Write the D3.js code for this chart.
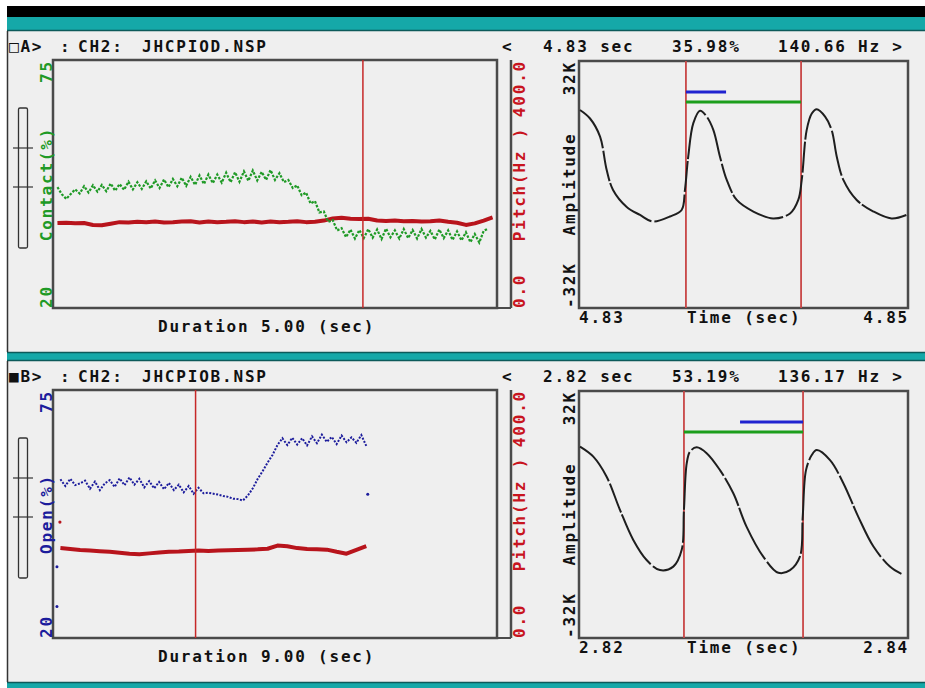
<!DOCTYPE html>
<html>
<head>
<meta charset="utf-8">
<script src="https://cdn.jsdelivr.net/npm/d3@7"></script>
<style>
  body { margin: 0; background: #fff; }
  text { font-family: "DejaVu Sans Mono", monospace; font-weight: bold; font-size: 16px; letter-spacing: 1.8px; }
</style>
</head>
<body>
<svg id="chart" width="925" height="688"></svg>
<script>
// ---- data read off the screen capture ----
// panel A : contact quotient (%) sampled every 0.05 s from 0.05 s
const contactA = [
  46.8, 45.2, 44.2, 45.3, 46.3, 45.4, 47.0, 45.6, 47.2, 45.8,
  47.3, 45.9, 47.6, 46.0, 47.5, 46.2, 48.0, 46.3, 47.9, 46.4,
  48.1, 46.5, 48.3, 46.6, 48.5, 46.8, 48.6, 47.0, 48.9, 47.1,
  49.1, 47.3, 49.4, 47.5, 49.6, 47.7, 49.6, 47.8, 50.0, 47.9,
  50.1, 48.0, 50.3, 48.2, 50.5, 48.3, 50.2, 48.4, 50.6, 48.4,
  49.9, 47.9, 48.4, 46.6, 47.2, 45.0, 45.6, 43.2, 43.7, 41.2,
  41.4, 39.1, 39.5, 37.2, 37.7, 35.7, 37.4, 35.4, 37.3, 35.5,
  37.5, 35.6, 37.4, 35.3, 37.6, 35.7, 37.2, 35.4, 37.5, 35.5,
  37.3, 35.4, 37.5, 35.6, 37.1, 35.2, 37.4, 35.5, 37.2, 35.1,
  37.0, 35.0, 36.8, 34.6, 36.4, 34.5, 37.1, 37.6
];
// panel A : pitch (Hz) every 0.1 s from 0.05 s
const pitchA = [
  137, 137.5, 136.5, 137, 134, 133.5, 136, 138.5, 138, 139,
  138.5, 139.5, 138, 138.5, 139.5, 140, 138, 139.5, 138.5, 139,
  140, 138.5, 139.5, 138, 139.5, 138.5, 139, 140, 138.5, 139,
  141, 144.5, 145.5, 144, 143.5, 144, 141, 140.5, 141, 140,
  140.5, 139.5, 140, 141, 139, 137.5, 134, 136.5, 141, 146
];
// panel B : open quotient (%) every 0.1 s from 0.15 s
const openB = [
  55.2, 53.7, 55.3, 53.9, 54.3, 54.9, 53.1, 54.7, 52.8, 54.3,
  55.0, 53.5, 55.4, 53.9, 55.6, 54.0, 55.3, 53.4, 54.8, 53.2,
  54.6, 53.0, 54.4, 52.8, 54.0, 52.3, 53.7, 52.0, 53.3, 52.1,
  52.2, 52.0, 51.8, 51.5, 51.3, 50.9, 50.8, 50.5, 51.6, 53.2,
  55.3, 57.0, 58.9, 60.6, 62.8, 64.3, 62.8, 64.4, 62.9, 64.3,
  62.7, 64.7, 63.2, 65.1, 63.5, 64.6, 63.0, 64.9, 63.4, 64.5,
  63.3, 65.0, 62.6
];
const strayOpenB = [[0.08, 35.8], [0.08, 27.0], [6.38, 51.9]];
// panel B : pitch (Hz) every 0.2 s from 0.15 s
const pitchB = [
  145, 143.5, 142, 141, 140, 139, 137.5, 136, 135, 136.5,
  138, 139, 139.5, 140.5, 141, 140.5, 141, 141.5, 142, 142.5,
  143, 144, 149, 148, 145, 143.5, 143, 142.5, 139, 136,
  142, 148
];
const strayPitchB = [[0.14, 187]];

// waveforms: [ms from window start, amplitude in K]
const waveA = [
  [0.06, 19.3], [0.67, 17.1], [1.28, 12.4], [1.68, 3.8], [2.07, -1.4], [2.9, -5.8],
  [3.71, -7.9], [4.5, -9.6], [5.53, -8.3], [6.24, -6.6], [6.44, -1.4], [6.64, 7.2],
  [6.95, 15.9], [7.36, 19.1], [7.76, 17.6], [8.17, 14.1], [8.57, 7.2], [8.98, 1.2],
  [9.59, -4.0], [10.6, -7.0], [11.8, -8.8], [12.83, -7.5], [13.33, -4.0], [13.54, 1.2],
  [13.84, 14.1], [14.15, 18.4], [14.45, 19.5], [14.96, 17.6], [15.36, 14.1], [15.67, 7.2],
  [16.07, 1.2], [16.88, -4.0], [17.9, -7.0], [19.0, -8.8], [19.9, -7.9]
];
const waveB = [
  [0.06, 17.6], [0.87, 15.0], [1.68, 9.8], [2.49, 1.2], [3.3, -6.6], [4.11, -11.8],
  [4.92, -14.4], [5.73, -13.5], [6.24, -9.2], [6.38, 1.2], [6.55, 13.3], [6.75, 16.3],
  [7.15, 17.4], [7.76, 15.9], [8.57, 11.5], [9.38, 5.5], [10.19, -3.2], [11.2, -10.9],
  [12.12, -15.1], [12.83, -14.4], [13.43, -10.9], [13.6, -0.6], [13.8, 11.5], [14.15, 15.4],
  [14.45, 16.7], [15.26, 14.1], [16.07, 8.1], [16.98, -0.6], [17.9, -8.3], [18.9, -13.5],
  [19.6, -15.4]
];

const periodA = [6.5, 13.5], openBarA = [6.5, 8.94];
const periodB = [6.38, 13.62], openBarB = [9.79, 13.62];

const svg = d3.select("#chart");

// title bar strips
svg.append("rect").attr("x", 7).attr("y", 6).attr("width", 918).attr("height", 11).attr("fill", "#000");
svg.append("rect").attr("x", 7).attr("y", 17).attr("width", 918).attr("height", 13).attr("fill", "#15a8a8");
svg.append("rect").attr("x", 7).attr("y", 353).attr("width", 918).attr("height", 8).attr("fill", "#15a8a8");
svg.append("rect").attr("x", 7).attr("y", 682).attr("width", 918).attr("height", 6).attr("fill", "#15a8a8");

function series(values, start, step) {
  return values.map((v, i) => [start + i * step, v]);
}

function drawPanel(cfg) {
  const oy = cfg.top;
  const top = oy + 29, bottom = oy + 277;
  const g = svg.append("g");

  g.append("rect").attr("x", 7).attr("y", oy).attr("width", 918).attr("height", 321).attr("fill", "#efefef");
  g.append("line").attr("x1", 7).attr("x2", 925).attr("y1", oy - 0.5).attr("y2", oy - 0.5).attr("stroke", "#0d5a5a").attr("stroke-width", 1.5);
  g.append("line").attr("x1", 7).attr("x2", 925).attr("y1", oy + 321.5).attr("y2", oy + 321.5).attr("stroke", "#0d5a5a").attr("stroke-width", 1.5);
  g.append("line").attr("x1", 7.5).attr("x2", 7.5).attr("y1", oy).attr("y2", oy + 321).attr("stroke", "#333").attr("stroke-width", 1.5);

  // header line
  cfg.header.concat(cfg.info).forEach(([x, s]) => {
    g.append("text").attr("x", x).attr("y", oy + 21).attr("fill", "#111").text(s);
  });

  // scroll indicator on the far left
  g.append("rect").attr("x", 18.5).attr("y", oy + 77).attr("width", 9).attr("height", 140)
    .attr("rx", 1.5).attr("fill", "none").attr("stroke", "#333").attr("stroke-width", 1.3);
  [oy + 117, oy + 156].forEach(y => {
    g.append("line").attr("x1", 13).attr("x2", 33).attr("y1", y).attr("y2", y).attr("stroke", "#333").attr("stroke-width", 1.2);
  });

  // ---- left: trend plot ----
  const xL = d3.scaleLinear().domain([0, cfg.duration]).range([53, 497]);
  const yL = d3.scaleLinear().domain([20, 75]).range([bottom, top]);
  const yP = d3.scaleLinear().domain([0, 400]).range([bottom, top]);

  const frame = "#4a4a4a";
  g.append("rect").attr("x", 53).attr("y", top).attr("width", 444).attr("height", bottom - top)
    .attr("fill", "none").attr("stroke", frame).attr("stroke-width", 2.5);
  g.append("line").attr("x1", 511).attr("x2", 511).attr("y1", top).attr("y2", bottom).attr("stroke", frame).attr("stroke-width", 2.5);
  g.append("line").attr("x1", 497).attr("x2", 511).attr("y1", bottom).attr("y2", bottom).attr("stroke", frame).attr("stroke-width", 2);

  const lineL = d3.line().x(d => xL(d[0])).y(d => yL(d[1]));
  const lineP = d3.line().x(d => xL(d[0])).y(d => yP(d[1]));

  g.append("path").datum(cfg.pitch).attr("d", lineP).attr("fill", "none")
    .attr("stroke", "#b8141c").attr("stroke-width", 4).attr("stroke-linejoin", "round");
  g.append("path").datum(cfg.quotient).attr("d", lineL).attr("fill", "none")
    .attr("stroke", cfg.color).attr("stroke-width", cfg.dotWidth).attr("stroke-dasharray", cfg.dash);

  (cfg.strayQ || []).forEach(d => {
    g.append("circle").attr("cx", xL(d[0])).attr("cy", yL(d[1])).attr("r", 1.5).attr("fill", cfg.color);
  });
  (cfg.strayP || []).forEach(d => {
    g.append("circle").attr("cx", xL(d[0])).attr("cy", yP(d[1])).attr("r", 1.6).attr("fill", "#b8141c");
  });

  g.append("line").attr("x1", xL(cfg.cursor)).attr("x2", xL(cfg.cursor)).attr("y1", top).attr("y2", bottom)
    .attr("stroke", "#c62828").attr("stroke-width", 1.5);

  // rotated axis texts
  const rot = (x, y, s, anchor, fill) => g.append("text")
    .attr("transform", `translate(${x},${y}) rotate(-90)`)
    .attr("text-anchor", anchor).attr("fill", fill).text(s);
  rot(52, yL(75), "75", "end", cfg.color);
  rot(52, yL(20), "20", "start", cfg.color);
  rot(52, (top + bottom) / 2, cfg.label, "middle", cfg.color);
  rot(525, yP(400), "400.0", "end", "#c8141e");
  rot(525, yP(0), "0.0", "start", "#c8141e");
  rot(525, (top + bottom) / 2, "Pitch(Hz )", "middle", "#c8141e");

  g.append("text").attr("x", 158).attr("y", bottom + 24).attr("fill", "#111").text(cfg.durationLabel);

  // ---- right: waveform ----
  const xR = d3.scaleLinear().domain([0, 20]).range([579, 908]);
  const yR = d3.scaleLinear().domain([-32, 32]).range([bottom, top + 1]);

  g.append("rect").attr("x", 579).attr("y", top + 1).attr("width", 329).attr("height", bottom - top - 1)
    .attr("fill", "none").attr("stroke", frame).attr("stroke-width", 2.5);

  cfg.period.forEach(t => {
    g.append("line").attr("x1", xR(t)).attr("x2", xR(t)).attr("y1", top + 1).attr("y2", bottom)
      .attr("stroke", "#c84646").attr("stroke-width", 1.8);
  });
  g.append("line").attr("x1", xR(cfg.period[0])).attr("x2", xR(cfg.period[1]))
    .attr("y1", yR(21.4)).attr("y2", yR(21.4)).attr("stroke", "#1c9e1c").attr("stroke-width", 3);
  g.append("line").attr("x1", xR(cfg.openBar[0])).attr("x2", xR(cfg.openBar[1]))
    .attr("y1", yR(24)).attr("y2", yR(24)).attr("stroke", "#1f22cf").attr("stroke-width", 3);

  g.append("path").datum(cfg.wave)
    .attr("d", d3.line().x(d => xR(d[0])).y(d => yR(d[1])).curve(d3.curveCatmullRom))
    .attr("fill", "none").attr("stroke", "#1e1e1e").attr("stroke-width", 2)
    .attr("stroke-dasharray", "46,2.5,31,2,58,3");

  rot(575, top + 1, "32K", "end", "#111");
  rot(575, bottom, "-32K", "start", "#111");
  rot(575, (top + bottom) / 2, "Amplitude", "middle", "#111");

  g.append("text").attr("x", 579).attr("y", bottom + 15).attr("fill", "#111").text(cfg.timeLabels[0]);
  g.append("text").attr("x", 687).attr("y", bottom + 15).attr("fill", "#111").text("Time (sec)");
  g.append("text").attr("x", 909).attr("y", bottom + 15).attr("text-anchor", "end").attr("fill", "#111").text(cfg.timeLabels[1]);
}

drawPanel({
  top: 31,
  header: [[9, "\u25A1A>"], [60, ":"], [78, "CH2:"], [142, "JHCPIOD.NSP"]],
  info: [[502, "<"], [543, "4.83 sec"], [672, "35.98%"], [778, "140.66 Hz >"]],
  duration: 5,
  durationLabel: "Duration 5.00 (sec)",
  label: "Contact(%)",
  color: "#1f9a26",
  dotWidth: 2.2,
  dash: "2.5,1.5",
  quotient: series(contactA, 0.05, 0.05),
  pitch: series(pitchA, 0.05, 0.1),
  cursor: 3.49,
  wave: waveA,
  period: periodA,
  openBar: openBarA,
  timeLabels: ["4.83", "4.85"]
});

drawPanel({
  top: 361,
  header: [[9, "\u25A0B>"], [60, ":"], [78, "CH2:"], [142, "JHCPIOB.NSP"]],
  info: [[502, "<"], [543, "2.82 sec"], [672, "53.19%"], [778, "136.17 Hz >"]],
  duration: 9,
  durationLabel: "Duration 9.00 (sec)",
  label: "Open(%)",
  color: "#1c1c9c",
  dotWidth: 2,
  dash: "2,1.5",
  quotient: series(openB, 0.15, 0.1),
  strayQ: strayOpenB,
  pitch: series(pitchB, 0.15, 0.2),
  strayP: strayPitchB,
  cursor: 2.89,
  wave: waveB,
  period: periodB,
  openBar: openBarB,
  timeLabels: ["2.82", "2.84"]
});
</script>
</body>
</html>
